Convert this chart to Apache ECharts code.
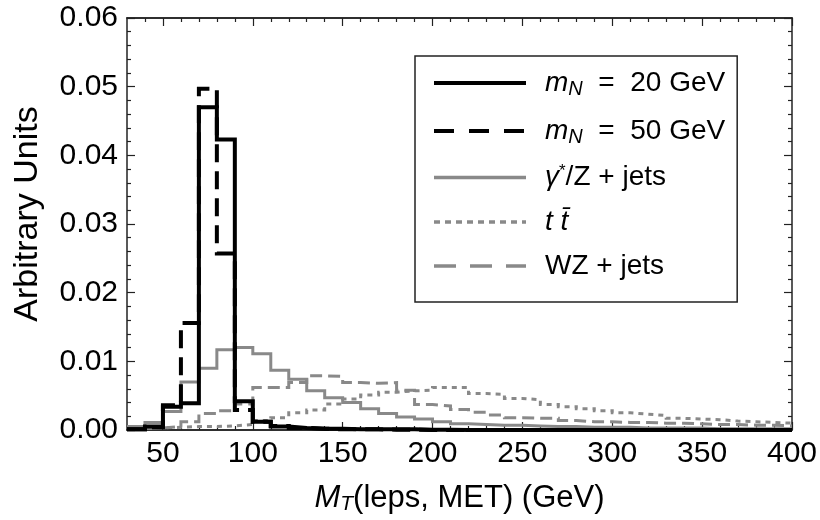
<!DOCTYPE html>
<html>
<head>
<meta charset="utf-8">
<script src="https://cdn.jsdelivr.net/npm/echarts@6/dist/echarts.min.js"></script>
<style>
  html, body { margin: 0; padding: 0; background: #fff; }
  #chart { width: 820px; height: 520px; }
</style>
</head>
<body>
<div id="chart"></div>
<script>
// M_T histogram, bins 10 GeV wide, low edges
const binEdges = [30, 40, 50, 60, 70, 80, 90, 100, 110, 120, 130, 140, 150, 160, 170, 180, 190, 200, 210,
  220, 230, 240, 250, 260, 270, 280, 290, 300, 310, 320, 330, 340, 350, 360, 370, 380, 390];
const binWidth = 10;

const mN20 = [0.0001, 0.0005, 0.0034, 0.0039, 0.0470, 0.0423, 0.0042, 0.0012, 0.0005, 0.0003, 0.0002, 0.0002,
  0.0001, 0.0001, 0.0001, 0.0001, 0.00005, 0.00005, 0, 0, 0, 0, 0, 0, 0, 0, 0, 0, 0, 0, 0, 0, 0, 0, 0, 0, 0];
const mN50 = [0.0001, 0.0004, 0.0036, 0.0156, 0.0497, 0.0257, 0.0029, 0.0012, 0.0006, 0.0003, 0.0002, 0.0001,
  0.0001, 0.0001, 0.00005, 0.00005, 0, 0, 0, 0, 0, 0, 0, 0, 0, 0, 0, 0, 0, 0, 0, 0, 0, 0, 0, 0, 0];
const dyJets = [0.0005, 0.0011, 0.0027, 0.0070, 0.0090, 0.0117, 0.0120, 0.0111, 0.0087, 0.0074, 0.0057, 0.0047,
  0.0040, 0.0031, 0.0024, 0.0019, 0.0016, 0.0012, 0.0009, 0.0008, 0.0007, 0.0007, 0.0006, 0.0005, 0.0005,
  0.0004, 0.0004, 0.0004, 0.0003, 0.0003, 0.0003, 0.0003, 0.0002, 0.0002, 0.0002, 0.0002, 0.0002];
const ttbar = [0.0002, 0.0003, 0.0004, 0.0005, 0.0005, 0.0006, 0.0008, 0.0014, 0.0018, 0.0025, 0.0029, 0.0038,
  0.0045, 0.0051, 0.0055, 0.0057, 0.0058, 0.0062, 0.0062, 0.0053, 0.0052, 0.0046, 0.0044, 0.0037, 0.0034,
  0.0031, 0.0028, 0.0025, 0.0023, 0.0021, 0.0017, 0.0016, 0.0015, 0.0013, 0.0012, 0.0011, 0.0010];
const wzJets = [0.0002, 0.0003, 0.0005, 0.0012, 0.0024, 0.0028, 0.0038, 0.0062, 0.0062, 0.0069, 0.0079, 0.0078,
  0.0069, 0.0068, 0.0069, 0.0058, 0.0037, 0.0035, 0.0030, 0.0026, 0.0022, 0.0018, 0.0017, 0.0017, 0.0014,
  0.0012, 0.0012, 0.0011, 0.0011, 0.0010, 0.0010, 0.0009, 0.0008, 0.0008, 0.0007, 0.0007, 0.0006];

const xMajorTicks = [50, 100, 150, 200, 250, 300, 350, 400];
const xMinorTicks = [40, 60, 70, 80, 90, 110, 120, 130, 140, 160, 170, 180, 190, 210, 220, 230, 240,
  260, 270, 280, 290, 310, 320, 330, 340, 360, 370, 380, 390];

const seriesNames = ["mN20", "mN50", "dy", "tt", "wz"];
const legendText = {
  mN20: "{i|m}{sub|N}{t|  =  20 GeV}",
  mN50: "{i|m}{sub|N}{t|  =  50 GeV}",
  dy: "{i|γ}{sup|*}{t|/Z + jets}",
  tt: "{i|t t\u0304}",
  wz: "{t|WZ + jets}"
};

const FONT = "Liberation Sans, Arial, sans-serif";
const GRAY = "#898989";

// histogram outline as step points
function toSteps(vals) {
  const pts = binEdges.map((e, i) => [e, vals[i]]);
  pts.push([binEdges[binEdges.length - 1] + binWidth, vals[vals.length - 1]]);
  return pts;
}

function histSeries(name, vals, color, width, dash, z) {
  return {
    name: name,
    type: "line",
    step: "end",
    symbol: "none",
    showSymbol: false,
    data: toSteps(vals),
    z: z,
    lineStyle: { color: color, width: width, type: dash, cap: "butt", join: "miter" },
    itemStyle: { color: color },
    emphasis: { disabled: true },
    animation: false
  };
}

function xAxisCfg(pos, ticks, len, labels) {
  return {
    type: "value", position: pos, min: 30, max: 400,
    axisLine: { show: true, onZero: false, lineStyle: { color: "#222", width: 1.5 } },
    axisTick: { show: true, inside: true, length: len, customValues: ticks, lineStyle: { color: "#222", width: 1.2 } },
    axisLabel: labels
      ? { show: true, customValues: ticks, fontSize: 30, color: "#000", fontFamily: FONT, margin: 9 }
      : { show: false },
    splitLine: { show: false }
  };
}

function yAxisCfg(pos, labels) {
  return {
    type: "value", position: pos, min: 0, max: 0.06, interval: 0.01,
    axisLine: { show: true, lineStyle: { color: "#222", width: 1.5 } },
    axisTick: { show: true, inside: true, length: 8, lineStyle: { color: "#222", width: 1.2 } },
    minorTick: { show: true, splitNumber: 5, length: 4, lineStyle: { color: "#222", width: 1.2 } },
    axisLabel: labels
      ? { show: true, fontSize: 30, color: "#000", fontFamily: FONT, margin: 9,
          formatter: v => v.toFixed(2) }
      : { show: false },
    splitLine: { show: false },
    minorSplitLine: { show: false }
  };
}

const chart = echarts.init(document.getElementById("chart"), null, { renderer: "canvas" });

const bottomAxis = xAxisCfg("bottom", xMajorTicks, 8, true);
bottomAxis.name = "{i|M}{sub|T}{t|(leps, MET) (GeV)}";
bottomAxis.nameLocation = "middle";
bottomAxis.nameGap = 51;
bottomAxis.nameTextStyle = {
  rich: {
    i: { fontSize: 31, fontStyle: "italic", fontFamily: FONT, color: "#000" },
    sub: { fontSize: 21, fontStyle: "italic", fontFamily: FONT, color: "#000", padding: [13, 0, 0, 0] },
    t: { fontSize: 31, fontFamily: FONT, color: "#000" }
  }
};

const leftAxis = yAxisCfg("left", true);
leftAxis.name = "Arbitrary Units";
leftAxis.nameLocation = "middle";
leftAxis.nameGap = 82;
leftAxis.nameTextStyle = { fontSize: 34, fontFamily: FONT, color: "#000", padding: [0, 0, 0, 20] };

const option = {
  backgroundColor: "#fff",
  animation: false,
  grid: { left: 127, right: 20, top: 18, bottom: 90, containLabel: false },
  xAxis: [
    bottomAxis,
    xAxisCfg("bottom", xMinorTicks, 4, false),
    xAxisCfg("top", xMajorTicks, 8, false),
    xAxisCfg("top", xMinorTicks, 4, false)
  ],
  yAxis: [leftAxis, yAxisCfg("right", false)],
  legend: {
    orient: "vertical",
    left: 415,
    top: 56,
    data: [
      { name: "mN20", lineStyle: { width: 4, type: "solid", color: "#000" } },
      { name: "mN50", lineStyle: { width: 4, type: [20, 15], color: "#000" } },
      { name: "dy", lineStyle: { width: 3.5, type: "solid", color: GRAY } },
      { name: "tt", lineStyle: { width: 3.5, type: [6, 5], color: GRAY } },
      { name: "wz", lineStyle: { width: 3.5, type: [22, 14], color: GRAY } }
    ],
    itemWidth: 92,
    itemHeight: 14,
    itemGap: 16,
    padding: [11, 12, 22, 17],
    borderColor: "#222",
    borderWidth: 1.5,
    backgroundColor: "#fff",
    selectedMode: false,
    itemStyle: { opacity: 0 },
    formatter: name => legendText[name],
    textStyle: {
      padding: [0, 0, 0, 14],
      rich: {
        i: { fontSize: 28, fontStyle: "italic", fontFamily: FONT, color: "#000", lineHeight: 30 },
        sub: { fontSize: 20, fontStyle: "italic", fontFamily: FONT, color: "#000", padding: [12, 0, 0, 0], lineHeight: 30 },
        sup: { fontSize: 17, fontFamily: FONT, color: "#000", padding: [0, 0, 12, 0], lineHeight: 30 },
        t: { fontSize: 28, fontFamily: FONT, color: "#000", lineHeight: 30 }
      }
    }
  },
  series: [
    histSeries("mN20", mN20, "#000", 4, "solid", 6),
    histSeries("mN50", mN50, "#000", 4, [18, 9], 5),
    histSeries("dy", dyJets, GRAY, 3, "solid", 3),
    histSeries("tt", ttbar, GRAY, 3, [5, 5], 2),
    histSeries("wz", wzJets, GRAY, 3, [12, 6], 2)
  ]
};

chart.setOption(option);
</script>
</body>
</html>
